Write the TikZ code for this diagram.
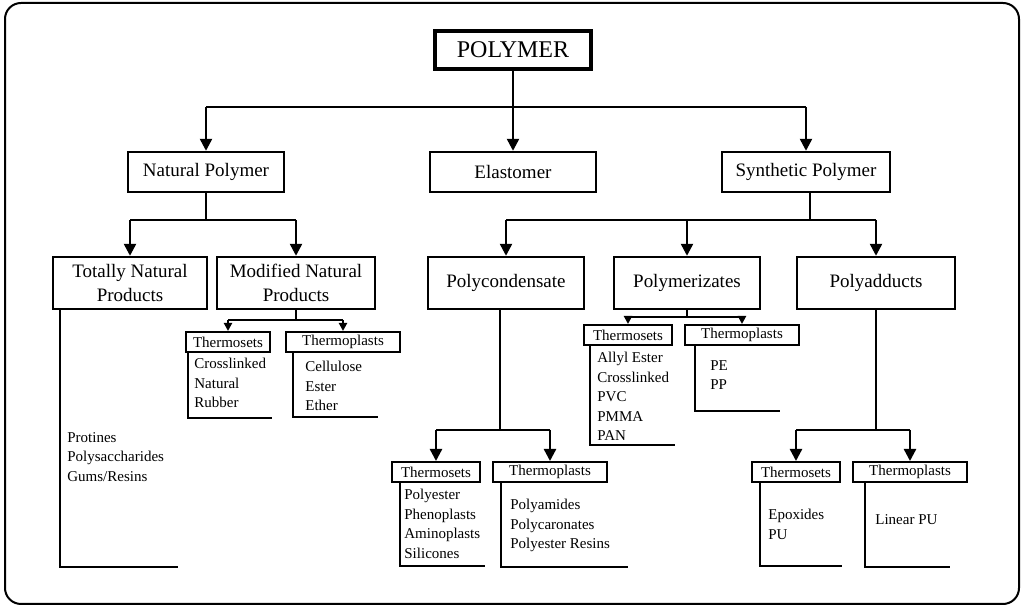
\documentclass[tikz,border=0pt]{standalone}
\usepackage{fontspec}
\setmainfont{Liberation Serif}
\usetikzlibrary{arrows.meta}

\tikzset{
  box/.style={draw, line width=1.2pt, minimum height=20pt, inner sep=2pt, font=\fontsize{9.5}{11}\selectfont},
  sbox/.style={draw, line width=1pt, minimum height=10pt, inner sep=1pt, font=\fontsize{7.5}{8}\selectfont},
  leaf/.style={anchor=north west, align=left, inner sep=0pt, font=\fontsize{7.5}{9.75}\selectfont},
  arr/.style={line width=1.2pt, -{Triangle[length=6pt,width=6pt]}},
  sarr/.style={line width=1pt, -{Triangle[length=4pt,width=4pt]}},
  ln/.style={line width=1.2pt},
}

\begin{document}
\begin{tikzpicture}[x=0.5pt,y=-0.5pt]
  \useasboundingbox (0,0) rectangle (1024,608);
  \draw[line width=1pt, rounded corners=8pt] (5,3) rectangle (1019,604);

  % top level
  \node[draw, line width=2.2pt, minimum width=78pt, minimum height=19pt, font=\fontsize{12}{14}\selectfont] (poly) at (513,50) {POLYMER};
  \node[box, minimum width=78pt] (nat) at (206,172) {Natural Polymer};
  \node[box, minimum width=83pt] (ela) at (513,172) {Elastomer};
  \node[box, minimum width=84pt] (syn) at (806,172) {Synthetic Polymer};
  \coordinate (b0) at (513,107);
  \draw[ln] (poly.south) -- (b0);
  \draw[ln] (nat.north |- b0) -- (syn.north |- b0);
  \draw[arr] (nat.north |- b0) -- (nat.north);
  \draw[arr] (b0) -- (ela.north);
  \draw[arr] (syn.north |- b0) -- (syn.north);

  % second level
  \node[box, minimum width=77pt, minimum height=26pt, align=center, font=\fontsize{9.5}{12}\selectfont] (tnp) at (130,283) {Totally Natural\\Products};
  \node[box, minimum width=79pt, minimum height=26pt, align=center, font=\fontsize{9.5}{12}\selectfont] (mnp) at (296,283) {Modified Natural\\Products};
  \node[box, minimum width=78pt, minimum height=26pt] (pcd) at (506,283) {Polycondensate};
  \node[box, minimum width=73pt, minimum height=26pt] (pmz) at (687,283) {Polymerizates};
  \node[box, minimum width=79pt, minimum height=26pt] (pad) at (876,283) {Polyadducts};
  \coordinate (b1) at (206,220);
  \coordinate (b2) at (810,220);
  \draw[ln] (nat.south) -- (b1);
  \draw[ln] (tnp.north |- b1) -- (mnp.north |- b1);
  \draw[arr] (tnp.north |- b1) -- (tnp.north);
  \draw[arr] (mnp.north |- b1) -- (mnp.north);
  \draw[ln] (syn.south -| b2) -- (b2);
  \draw[ln] (pcd.north |- b2) -- (pad.north |- b2);
  \draw[arr] (pcd.north |- b2) -- (pcd.north);
  \draw[arr] (pmz.north |- b2) -- (pmz.north);
  \draw[arr] (pad.north |- b2) -- (pad.north);

  % totally natural
  \draw[ln] (60,310) -- (60,567) -- (178,567);
  \node[leaf] (tnpl) at (67,432) {Protines\\Polysaccharides\\Gums/Resins};

  % modified natural
  \node[sbox, minimum width=42pt] (mts) at (228,342) {Thermosets};
  \node[sbox, minimum width=57pt] (mtp) at (343,342) {Thermoplasts};
  \coordinate (b3) at (296,320);
  \draw[ln] (mnp.south) -- (b3);
  \draw[ln] (mts.north |- b3) -- (mtp.north |- b3);
  \draw[sarr] (mts.north |- b3) -- (mts.north);
  \draw[sarr] (mtp.north |- b3) -- (mtp.north);
  \draw[ln] (188,352) -- (188,418) -- (272,418);
  \node[leaf] (mtsl) at (194,358) {Crosslinked\\Natural\\Rubber};
  \draw[ln] (293,352) -- (293,417) -- (378,417);
  \node[leaf] (mtpl) at (305,361) {Cellulose\\Ester\\Ether};

  % polycondensate
  \node[sbox, minimum width=44pt] (cts) at (436,472) {Thermosets};
  \node[sbox, minimum width=57pt] (ctp) at (550,472) {Thermoplasts};
  \coordinate (b4) at (500,430);
  \draw[ln] (pcd.south -| b4) -- (b4);
  \draw[ln] (cts.north |- b4) -- (ctp.north |- b4);
  \draw[arr] (cts.north |- b4) -- (cts.north);
  \draw[arr] (ctp.north |- b4) -- (ctp.north);
  \draw[ln] (400,482) -- (400,566) -- (485,566);
  \node[leaf] (ctsl) at (404,489) {Polyester\\Phenoplasts\\Aminoplasts\\Silicones};
  \draw[ln] (501,482) -- (501,567) -- (628,567);
  \node[leaf] (ctpl) at (510,499) {Polyamides\\Polycaronates\\Polyester Resins};

  % polymerizates
  \node[sbox, minimum width=44pt] (zts) at (628,335) {Thermosets};
  \node[sbox, minimum width=57pt] (ztp) at (742,335) {Thermoplasts};
  \coordinate (b5) at (687,317);
  \draw[ln] (pmz.south) -- (b5);
  \draw[ln] (zts.north |- b5) -- (ztp.north |- b5);
  \draw[sarr] (zts.north |- b5) -- (zts.north);
  \draw[sarr] (ztp.north |- b5) -- (ztp.north);
  \draw[ln] (590,345) -- (590,445) -- (675,445);
  \node[leaf] (ztsl) at (597,352) {Allyl Ester\\Crosslinked\\PVC\\PMMA\\PAN};
  \draw[ln] (695,345) -- (695,411) -- (780,411);
  \node[leaf] (ztpl) at (710,360) {PE\\PP};

  % polyadducts
  \node[sbox, minimum width=44pt] (ats) at (796,472) {Thermosets};
  \node[sbox, minimum width=57pt] (atp) at (910,472) {Thermoplasts};
  \coordinate (b6) at (876,430);
  \draw[ln] (pad.south) -- (b6);
  \draw[ln] (ats.north |- b6) -- (atp.north |- b6);
  \draw[arr] (ats.north |- b6) -- (ats.north);
  \draw[arr] (atp.north |- b6) -- (atp.north);
  \draw[ln] (760,482) -- (760,566) -- (842,566);
  \node[leaf] (atsl) at (768,509) {Epoxides\\PU};
  \draw[ln] (865,482) -- (865,567) -- (950,567);
  \node[leaf] (atpl) at (875,514) {Linear PU};
\end{tikzpicture}
\end{document}
